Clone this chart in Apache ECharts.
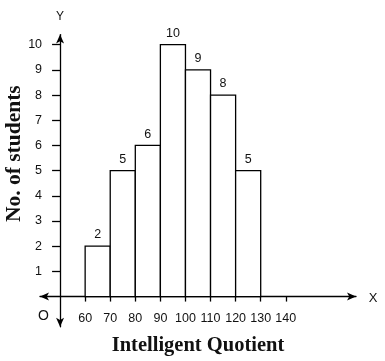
<!DOCTYPE html>
<html><head><meta charset="utf-8">
<script src="https://cdn.jsdelivr.net/npm/echarts@6/dist/echarts.min.js"></script>
<style>html,body{margin:0;padding:0;background:#fff}#c{width:385px;height:361px}</style>
</head><body><div id="c"></div>
<script>
// Data
const classStarts = [60, 70, 80, 90, 100, 110, 120];
const classEnds = [70, 80, 90, 100, 110, 120, 130];
const students = [2, 5, 6, 10, 9, 8, 5];
const xTicks = [60, 70, 80, 90, 100, 110, 120, 130, 140];
const yTicks = [1, 2, 3, 4, 5, 6, 7, 8, 9, 10];
const xName = 'Intelligent Quotient';
const yName = 'No. of students';

const X_MIN = 42, X_MAX = 168, Y_MIN = -1.2, Y_MAX = 10.4;
const Y_AXIS_AT = 50;
const GRID = { left: 40, right: 29, top: 34.6, bottom: 34.2 };
const gridW = 385 - GRID.left - GRID.right;
const gridH = 361 - GRID.top - GRID.bottom;
const yOffset = -(Y_AXIS_AT - X_MIN) * gridW / (X_MAX - X_MIN);
const xOffset = -(0 - Y_MIN) * gridH / (Y_MAX - Y_MIN);

const SANS = 'Liberation Sans, Arial, sans-serif';
const SERIF = 'Liberation Serif, Times New Roman, serif';
const lineStyle = { color: '#000', width: 1.3 };

const chart = echarts.init(document.getElementById('c'), null, { renderer: 'canvas' });
const data = classStarts.map((s, i) => [s, classEnds[i], students[i]]);

chart.setOption({
  animation: false,
  backgroundColor: '#fff',
  grid: { left: GRID.left, right: GRID.right, top: GRID.top, bottom: GRID.bottom, containLabel: false, outerBoundsMode: 'none' },
  xAxis: {
    type: 'value', min: X_MIN, max: X_MAX, position: 'bottom', offset: xOffset,
    axisLine: { show: true, onZero: false, symbol: ['arrow', 'arrow'], symbolSize: [6, 9], lineStyle },
    axisTick: { show: true, customValues: xTicks, length: 5, lineStyle },
    axisLabel: { customValues: xTicks, margin: 15, fontSize: 12.5, color: '#111', fontFamily: SANS },
    splitLine: { show: false },
    name: xName, nameLocation: 'middle', nameGap: 39, nameMoveOverlap: false,
    nameTextStyle: { fontFamily: SERIF, fontWeight: 'bold', fontSize: 20.5, color: '#111' }
  },
  yAxis: {
    type: 'value', min: Y_MIN, max: Y_MAX, position: 'left', offset: yOffset,
    axisLine: { show: true, onZero: false, symbol: ['arrow', 'arrow'], symbolSize: [6, 9], lineStyle },
    axisTick: { show: true, customValues: yTicks, length: 8, lineStyle },
    axisLabel: { customValues: yTicks, margin: 18, fontSize: 12.5, color: '#111', fontFamily: SANS },
    splitLine: { show: false },
    name: yName, nameLocation: 'middle', nameGap: 35, nameRotate: 90, nameMoveOverlap: false,
    nameTextStyle: { fontFamily: SERIF, fontWeight: 'bold', fontSize: 21.5, color: '#111', padding: [0, 0, 0, 54] }
  },
  series: [{
    type: 'custom',
    data: data,
    encode: { x: [0, 1], y: 2 },
    renderItem: function (params, api) {
      const s = api.value(0), e = api.value(1), v = api.value(2);
      const p0 = api.coord([s, v]);
      const p1 = api.coord([e, 0]);
      return {
        type: 'rect',
        shape: { x: p0[0], y: p0[1], width: p1[0] - p0[0], height: p1[1] - p0[1] },
        style: { fill: '#fff', stroke: '#000', lineWidth: 1.3 },
        textContent: { style: { text: String(v), fontSize: 12.5, fill: '#111', fontFamily: SANS } },
        textConfig: { position: 'top', distance: 4 }
      };
    }
  }]
});

const o = chart.convertToPixel({ gridIndex: 0 }, [Y_AXIS_AT, 0]);
const xe = chart.convertToPixel({ gridIndex: 0 }, [X_MAX, 0]);
const ye = chart.convertToPixel({ gridIndex: 0 }, [Y_AXIS_AT, Y_MAX]);
chart.setOption({
  graphic: [
    { type: 'text', x: o[0] - 16.5, y: o[1] + 19.5, style: { text: 'O', fontSize: 14, fill: '#111', fontFamily: SANS, align: 'center', verticalAlign: 'middle' } },
    { type: 'text', x: xe[0] + 17, y: xe[1] + 2, style: { text: 'X', fontSize: 13, fill: '#111', fontFamily: SANS, align: 'center', verticalAlign: 'middle' } },
    { type: 'text', x: ye[0], y: ye[1] - 17.5, style: { text: 'Y', fontSize: 12, fill: '#111', fontFamily: SANS, align: 'center', verticalAlign: 'middle' } }
  ]
});
</script>
</body></html>
